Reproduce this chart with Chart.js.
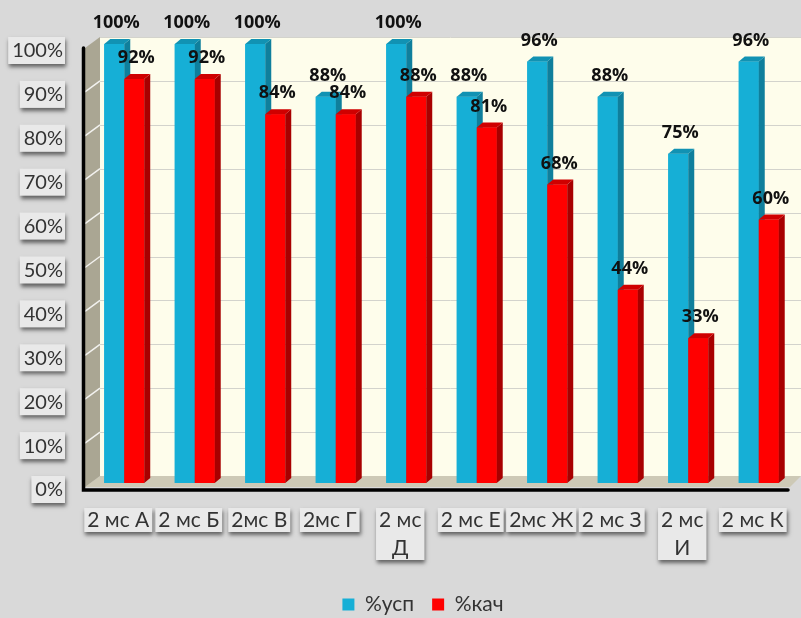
<!DOCTYPE html>
<html>
<head>
<meta charset="utf-8">
<script src="https://cdn.jsdelivr.net/npm/chart.js@4/dist/chart.umd.min.js"></script>
<style>
  html, body { margin: 0; padding: 0; background: #d9d9d9; }
  #wrap { width: 801px; height: 618px; position: relative; }
  canvas { display: block; }
</style>
</head>
<body>
<div id="wrap"><canvas id="chart" width="801" height="618"></canvas></div>
<script>
// Class groups and their results
const categories = ["2 мс А", "2 мс Б", "2мс В", "2мс Г", ["2 мс", "Д"], "2 мс Е", "2мс Ж", "2 мс З", ["2 мс", "И"], "2 мс К"];
const seriesNames = ["%усп", "%кач"];
const uspValues = [100, 100, 100, 88, 100, 88, 96, 88, 75, 96];
const kachValues = [92, 92, 84, 84, 88, 81, 68, 44, 33, 60];
const yTickValues = [0, 10, 20, 30, 40, 50, 60, 70, 80, 90, 100];

// colours for the three visible faces of every column
const faces = [
  { front: '#16afd6', side: '#0f7f9c', top: '#1192b3' },
  { front: '#ff0000', side: '#a80000', top: '#cf0000' }
];

const BAR_DX = 6, BAR_DY = 5;        // column depth
const WALL_FRONT = 4, WALL_BACK = 7;  // vertical shift of front / back planes
const LEGEND_SHIFT = 26;              // legend sits right of the page centre
const Y_FONT = '20px Lato';
const X_FONT = '21px Lato';

function poly(ctx, pts, fill) {
  ctx.beginPath();
  ctx.moveTo(pts[0][0], pts[0][1]);
  for (let i = 1; i < pts.length; i++) ctx.lineTo(pts[i][0], pts[i][1]);
  ctx.closePath();
  ctx.fillStyle = fill;
  ctx.fill();
}

function shadowBox(ctx, x, y, w, h) {
  ctx.save();
  ctx.shadowColor = 'rgba(0,0,0,0.55)';
  ctx.shadowBlur = 4;
  ctx.shadowOffsetX = 1;
  ctx.shadowOffsetY = 3;
  ctx.fillStyle = '#e9e9e9';
  ctx.fillRect(x, y, w, h);
  ctx.restore();
}

const chart3d = {
  id: 'chart3d',
  afterLayout(chart) {
    if (chart.legend) {
      chart.legend.left += LEGEND_SHIFT;
      chart.legend.right += LEGEND_SHIFT;
    }
  },
  beforeDraw(chart) {
    const { ctx, chartArea: a, scales: { x, y } } = chart;
    const W = chart.width;
    const p0 = y.getPixelForValue(0);
    const p100 = y.getPixelForValue(100);
    const wallFront = a.left - 4;
    const wallBack = a.left + 11;

    ctx.save();
    // back wall
    ctx.fillStyle = '#fefdeb';
    ctx.fillRect(wallBack, p100 - WALL_BACK, W - wallBack, p0 - p100);
    // back wall gridlines
    ctx.strokeStyle = '#d3d3cc';
    ctx.lineWidth = 1;
    yTickValues.forEach(v => {
      if (v === 0) return;
      const py = Math.round(y.getPixelForValue(v) - WALL_BACK) + 0.5;
      ctx.beginPath();
      ctx.moveTo(wallBack, py);
      ctx.lineTo(W, py);
      ctx.stroke();
    });
    // floor
    poly(ctx, [[wallFront, p0 + WALL_FRONT], [wallBack, p0 - WALL_BACK], [W, p0 - WALL_BACK], [a.right - 4, p0 + WALL_FRONT]], '#cdc9b6');
    // side wall
    poly(ctx, [[wallFront, p100 + WALL_FRONT], [wallBack, p100 - WALL_BACK], [wallBack, p0 - WALL_BACK], [wallFront, p0 + WALL_FRONT]], '#aaa693');
    ctx.strokeStyle = 'rgba(255,255,255,0.85)';
    ctx.lineWidth = 1.5;
    yTickValues.forEach(v => {
      if (v === 0 || v === 100) return;
      const py = y.getPixelForValue(v);
      ctx.beginPath();
      ctx.moveTo(wallFront, py + WALL_FRONT);
      ctx.lineTo(wallBack, py - WALL_BACK);
      ctx.stroke();
    });
    // black axis lines
    ctx.strokeStyle = '#000';
    ctx.lineWidth = 3.5;
    ctx.lineCap = 'round';
    ctx.beginPath();
    ctx.moveTo(wallFront - 1.5, p100 + WALL_FRONT);
    ctx.lineTo(wallFront - 1.5, p0 + 7);
    ctx.lineTo(a.right - 6, p0 + 7);
    ctx.stroke();

    // label plates behind the y tick labels
    ctx.font = Y_FONT;
    const yt = y.options.ticks;
    y.ticks.forEach((t, i) => {
      const w = ctx.measureText(t.label).width;
      const cy = y.getPixelForTick(i) + yt.labelOffset;
      const right = y.right - yt.padding;
      shadowBox(ctx, right - w - 4, cy - 14, w + 6, 27);
    });
    // label plates behind the category labels
    ctx.font = X_FONT;
    const xt = x.options.ticks;
    const lh = 28;
    const firstLine = a.bottom + x.options.grid.tickLength + xt.padding + lh / 2;
    x.ticks.forEach((t, i) => {
      const lines = Array.isArray(t.label) ? t.label : [t.label];
      const w = Math.max(...lines.map(s => ctx.measureText(s).width));
      const cx = x.getPixelForTick(i) + xt.labelOffset;
      shadowBox(ctx, cx - w / 2 - 3, firstLine - 12, w + 6, (lines.length - 1) * lh + 24);
    });
    ctx.restore();
  },
  afterDatasetsDraw(chart) {
    const { ctx } = chart;
    const metas = [0, 1].map(i => chart.getDatasetMeta(i));
    const values = [uspValues, kachValues];
    ctx.save();
    // columns with their depth faces, left column first in each group
    for (let j = 0; j < categories.length; j++) {
      metas.forEach((m, di) => {
        const el = m.data[j];
        const { x: cx, y: top, base, width } = el.getProps(['x', 'y', 'base', 'width'], true);
        const l = cx - width / 2, r = cx + width / 2;
        const f = faces[di];
        ctx.fillStyle = f.front;
        ctx.fillRect(l, top, width, base - top);
        poly(ctx, [[r, top], [r + BAR_DX, top - BAR_DY], [r + BAR_DX, base - BAR_DY], [r, base]], f.side);
        poly(ctx, [[l, top], [l + BAR_DX, top - BAR_DY], [r + BAR_DX, top - BAR_DY], [r, top]], f.top);
      });
    }
    // value labels
    ctx.font = 'bold 18px "Open Sans"';
    ctx.fillStyle = '#111111';
    ctx.textAlign = 'center';
    ctx.textBaseline = 'middle';
    metas.forEach((m, di) => {
      m.data.forEach((el, j) => {
        const { x: cx, y: top } = el.getProps(['x', 'y'], true);
        ctx.fillText(values[di][j] + '%', cx + 2, top - 21);
      });
    });
    ctx.restore();
  }
};

new Chart(document.getElementById('chart'), {
  type: 'bar',
  data: {
    labels: categories,
    datasets: [
      { label: seriesNames[0], data: uspValues, backgroundColor: faces[0].front, borderWidth: 0,
        categoryPercentage: 0.567, barPercentage: 1 },
      { label: seriesNames[1], data: kachValues, backgroundColor: faces[1].front, borderWidth: 0,
        categoryPercentage: 0.567, barPercentage: 1 }
    ]
  },
  options: {
    responsive: false,
    animation: false,
    devicePixelRatio: 1,
    layout: { padding: { left: 0, right: 7, top: 44, bottom: -7 } },
    scales: {
      x: {
        grid: { display: false, drawTicks: true, tickLength: 23 },
        border: { display: false },
        ticks: {
          padding: 0, labelOffset: -6, autoSkip: false, maxRotation: 0,
          color: '#333333', font: { family: 'Lato', size: 21, lineHeight: 1.3333 }
        },
        afterFit(s) { s.height = 93; }
      },
      y: {
        min: 0, max: 100,
        grid: { display: false, drawTicks: false },
        border: { display: false },
        ticks: {
          stepSize: 10, padding: 26, labelOffset: 7,
          color: '#333333', font: { family: 'Lato', size: 20 },
          callback: v => v + '%'
        },
        afterFit(s) { s.width = 89; }
      }
    },
    plugins: {
      legend: {
        position: 'bottom',
        labels: { boxWidth: 12, boxHeight: 12, padding: 18, color: '#333333', font: { family: 'Lato', size: 21 } }
      },
      tooltip: { enabled: false }
    }
  },
  plugins: [chart3d]
});
</script>
</body>
</html>
